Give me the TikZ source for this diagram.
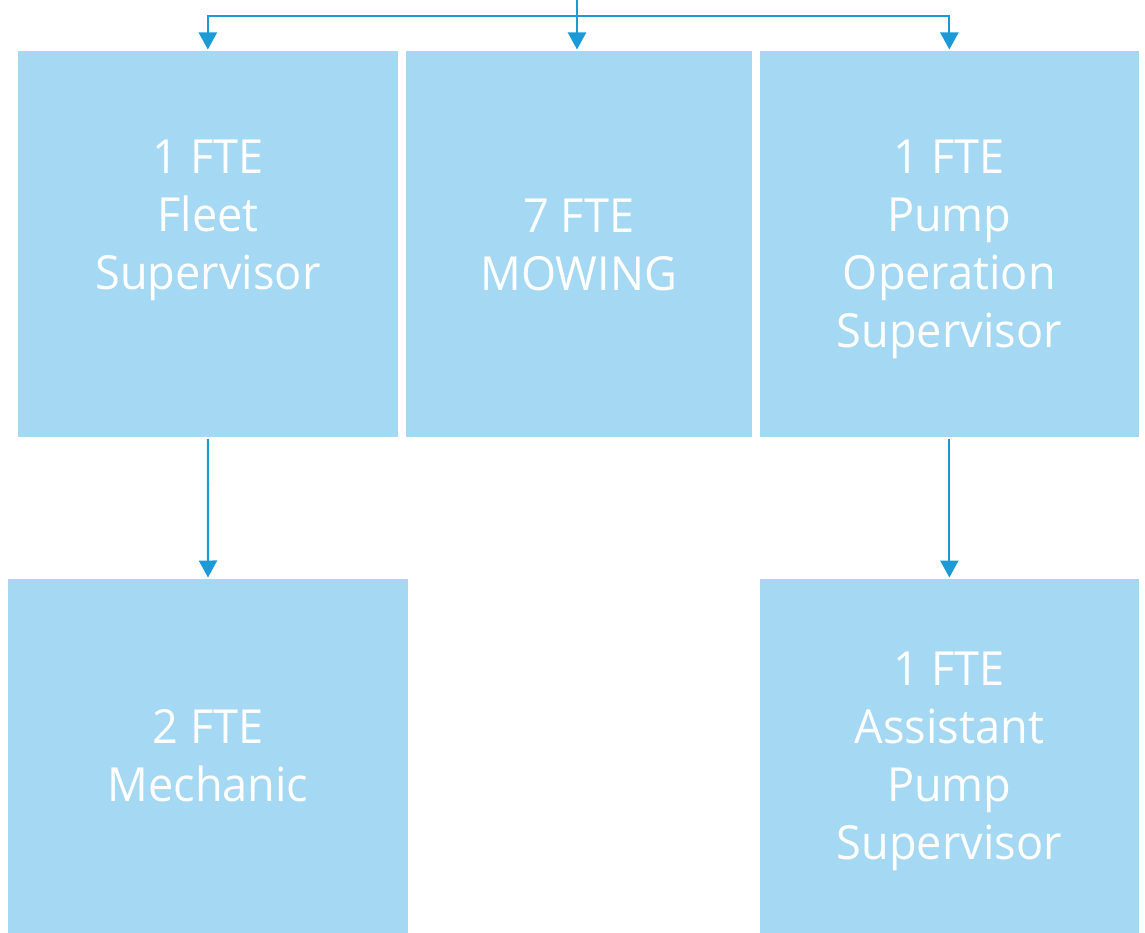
\documentclass[tikz,border=0pt]{standalone}
\usepackage{fontspec}
\setmainfont{Open Sans}[FakeStretch=0.96]
\usetikzlibrary{arrows.meta}
\definecolor{boxfill}{HTML}{A5D8F3}
\definecolor{linecol}{HTML}{1B9AD6}
\tikzset{
  box/.style={fill=boxfill, draw=none, inner sep=0pt, outer sep=0pt},
  lbl/.style={text=white, align=center, inner sep=0pt, font=\fontsize{47}{58}\selectfont},
  conn/.style={draw=linecol, line width=2.2pt, -{Triangle[width=18pt,length=17pt]}}
}
\begin{document}
\begin{tikzpicture}[x=1pt,y=-1pt]
\useasboundingbox[fill=white] (0,0) rectangle (1145,933);
% boxes
\node[box, minimum width=379.7pt, minimum height=386pt] (fleet) at (207.85,244) {};
\node[box, minimum width=346pt, minimum height=386pt] (mow) at (578.7,244) {};
\node[box, minimum width=379.3pt, minimum height=386pt] (pump) at (949.35,244) {};
\node[box, minimum width=400pt, minimum height=354pt] (mech) at (208,756) {};
\node[box, minimum width=379.3pt, minimum height=354pt] (asst) at (949.35,756) {};
% texts
\node[lbl] (tfleet) at (208,220) {1 FTE\\Fleet\\Supervisor};
\node[lbl] (tmow) at (578.7,244.5) {7 FTE\\MOWING};
\node[lbl] (tpump) at (949.35,249) {1 FTE\\Pump\\Operation\\Supervisor};
\node[lbl] (tmech) at (208,756) {2 FTE\\Mechanic};
\node[lbl] (tasst) at (949.35,761) {1 FTE\\Assistant\\Pump\\Supervisor};
% connectors
\coordinate (top) at (577,0);
\coordinate (junc) at (577,16);
\draw[conn, shorten >=1.5pt] (top) -- (junc) -| (fleet.north);
\draw[conn, shorten >=1.5pt] (top) -- (mow.north -| top);
\draw[conn, shorten >=1.5pt] (top) -- (junc) -| (pump.north);
\draw[conn, shorten <=2pt, shorten >=1.5pt] (fleet.south) -- (mech.north);
\draw[conn, shorten <=2pt, shorten >=1.5pt] (pump.south) -- (asst.north);
\end{tikzpicture}
\end{document}
